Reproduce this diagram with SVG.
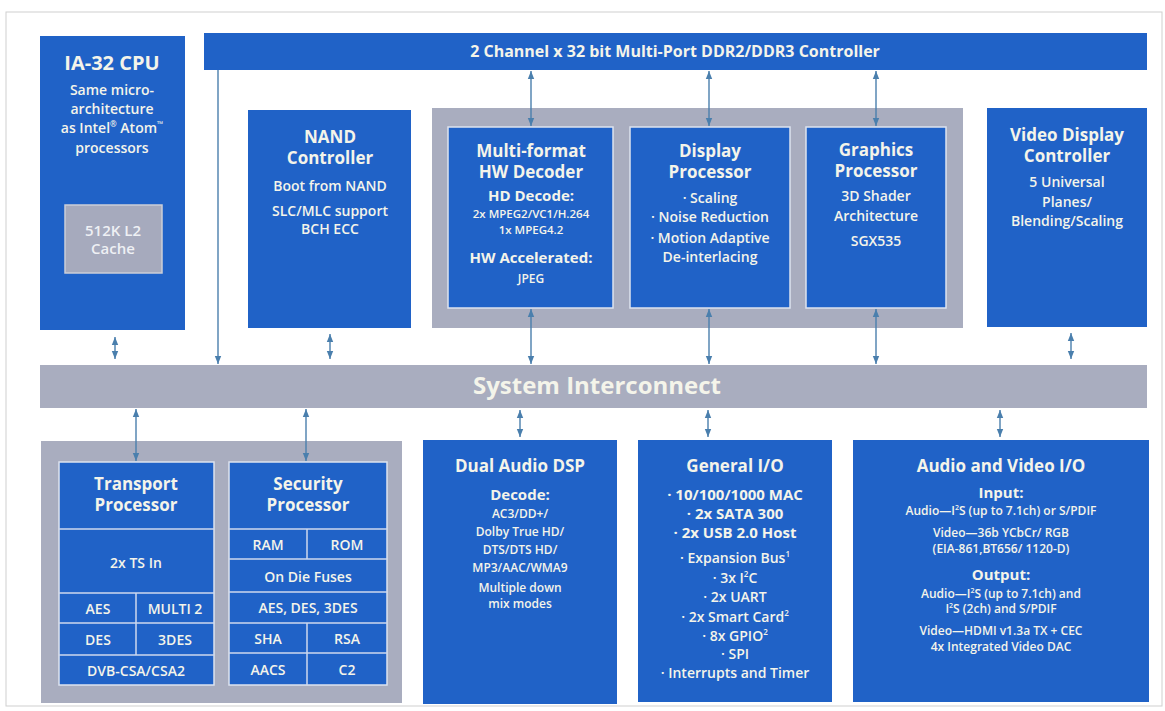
<svg xmlns="http://www.w3.org/2000/svg" width="1165" height="711" viewBox="0 0 1165 711">
<defs>
<marker id="ah" viewBox="0 0 10 10" refX="10" refY="5" markerWidth="8" markerHeight="8" markerUnits="userSpaceOnUse" orient="auto-start-reverse"><path d="M0,1 L10,5 L0,9 z" fill="#4a7fad"/></marker>
<style>
.blue{fill:#2062c7}
.gray{fill:#a9adbf}
.inner{fill:#2062c7;stroke:#dde3ef;stroke-width:1.5}
.grid{stroke:#cdd8ee;stroke-width:1.5;fill:none}
text{font-family:"Open Sans","DejaVu Sans",sans-serif;fill:#f4f4ea;text-anchor:middle}
.t{font-size:17px;font-weight:700}
.b{font-size:14px;font-weight:600}
.s{font-size:12px;font-weight:600}
.xs{font-size:11.5px;font-weight:600}
.sb{font-size:15px;font-weight:700}
.c{stroke:#4a7fad;stroke-width:1.4;fill:none}
</style>
</defs>
<rect x="0" y="0" width="1165" height="711" fill="#ffffff"/>
<rect x="6" y="12" width="1156" height="694" fill="none" stroke="#cfcfcf" stroke-width="1"/>

<g id="ddr">
<rect class="blue" x="204" y="33" width="943" height="37"/>
<text class="sb" x="675" y="57" style="font-size:16px">2 Channel x 32 bit Multi-Port DDR2/DDR3 Controller</text>
</g>

<g id="cpu">
<rect class="blue" x="40" y="36" width="145" height="294"/>
<text class="t" x="112" y="70" style="font-size:20px">IA-32 CPU</text>
<text class="b" x="112" y="95">Same micro-</text>
<text class="b" x="112" y="114">architecture</text>
<text class="b" x="112" y="133">as Intel<tspan font-size="8" dy="-6">®</tspan><tspan dy="6"> Atom</tspan><tspan font-size="8" dy="-6">™</tspan></text>
<text class="b" x="112" y="153">processors</text>
<rect x="65" y="205" width="97" height="68" fill="#a6aabd" stroke="#cbced8" stroke-width="1.5"/>
<text class="b" x="113" y="236" style="font-size:15px;fill:#eef0f4">512K L2</text>
<text class="b" x="113" y="254" style="font-size:15px;fill:#eef0f4">Cache</text>
</g>

<g id="nand">
<rect class="blue" x="248" y="110" width="163" height="218"/>
<text class="t" x="330" y="143">NAND</text>
<text class="t" x="330" y="164">Controller</text>
<text class="b" x="330" y="191">Boot from NAND</text>
<text class="b" x="330" y="216">SLC/MLC support</text>
<text class="b" x="330" y="234">BCH ECC</text>
</g>

<g id="media-group">
<rect class="gray" x="432" y="108" width="531" height="220"/>
</g>

<g id="decoder">
<rect class="inner" x="448" y="127" width="165" height="181"/>
<text class="t" x="531" y="157">Multi-format</text>
<text class="t" x="531" y="178">HW Decoder</text>
<text class="sb" x="531" y="201">HD Decode:</text>
<text class="xs" x="531" y="218">2x MPEG2/VC1/H.264</text>
<text class="xs" x="531" y="234">1x MPEG4.2</text>
<text class="sb" x="531" y="263">HW Accelerated:</text>
<text class="s" x="531" y="283">JPEG</text>
</g>

<g id="display">
<rect class="inner" x="630" y="127" width="160" height="181"/>
<text class="t" x="710" y="157">Display</text>
<text class="t" x="710" y="178">Processor</text>
<text class="b" x="710" y="203">· Scaling</text>
<text class="b" x="710" y="222">· Noise Reduction</text>
<text class="b" x="710" y="243">· Motion Adaptive</text>
<text class="b" x="710" y="262">De-interlacing</text>
</g>

<g id="graphics">
<rect class="inner" x="806" y="127" width="140" height="181"/>
<text class="t" x="876" y="156">Graphics</text>
<text class="t" x="876" y="177">Processor</text>
<text class="b" x="876" y="201">3D Shader</text>
<text class="b" x="876" y="221">Architecture</text>
<text class="b" x="876" y="246">SGX535</text>
</g>

<g id="vdc">
<rect class="blue" x="987" y="108" width="160" height="219"/>
<text class="t" x="1067" y="141">Video Display</text>
<text class="t" x="1067" y="162">Controller</text>
<text class="b" x="1067" y="187">5 Universal</text>
<text class="b" x="1067" y="207">Planes/</text>
<text class="b" x="1067" y="226">Blending/Scaling</text>
</g>

<g id="interconnect">
<rect class="gray" x="40" y="365" width="1107" height="43"/>
<text x="597" y="394" style="font-size:24px;font-weight:700">System Interconnect</text>
</g>

<g id="secure-group">
<rect class="gray" x="41" y="441" width="361" height="262"/>
</g>

<g id="transport">
<rect class="inner" x="59" y="462" width="155" height="223"/>
<path class="grid" d="M59,529H214M59,593H214M59,623H214M59,655H214M136,593V655"/>
<text class="t" x="136" y="490">Transport</text>
<text class="t" x="136" y="511">Processor</text>
<text class="b" x="136" y="568">2x TS In</text>
<text class="b" x="98" y="614">AES</text>
<text class="b" x="175" y="614">MULTI 2</text>
<text class="b" x="98" y="645">DES</text>
<text class="b" x="175" y="645">3DES</text>
<text class="b" x="136" y="676">DVB-CSA/CSA2</text>
</g>

<g id="security">
<rect class="inner" x="229" y="462" width="158" height="223"/>
<path class="grid" d="M229,529H387M229,559H387M229,592H387M229,623H387M229,653H387M307,529V559M307,623V685"/>
<text class="t" x="308" y="490">Security</text>
<text class="t" x="308" y="511">Processor</text>
<text class="b" x="268" y="550">RAM</text>
<text class="b" x="347" y="550">ROM</text>
<text class="b" x="308" y="582">On Die Fuses</text>
<text class="b" x="308" y="613">AES, DES, 3DES</text>
<text class="b" x="268" y="644">SHA</text>
<text class="b" x="347" y="644">RSA</text>
<text class="b" x="268" y="675">AACS</text>
<text class="b" x="347" y="675">C2</text>
</g>

<g id="dsp">
<rect class="blue" x="423" y="440" width="194" height="264"/>
<text class="t" x="520" y="472">Dual Audio DSP</text>
<text class="sb" x="520" y="500">Decode:</text>
<text class="s" x="520" y="518">AC3/DD+/</text>
<text class="s" x="520" y="536">Dolby True HD/</text>
<text class="s" x="520" y="554">DTS/DTS HD/</text>
<text class="s" x="520" y="572">MP3/AAC/WMA9</text>
<text class="s" x="520" y="592">Multiple down</text>
<text class="s" x="520" y="608">mix modes</text>
</g>

<g id="gio">
<rect class="blue" x="638" y="440" width="194" height="262"/>
<text class="t" x="735" y="472">General I/O</text>
<text class="sb" x="735" y="500">· 10/100/1000 MAC</text>
<text class="sb" x="735" y="519">· 2x SATA 300</text>
<text class="sb" x="735" y="538">· 2x USB 2.0 Host</text>
<text class="b" x="735" y="563">· Expansion Bus<tspan font-size="8" dy="-6">1</tspan></text>
<text class="b" x="735" y="583">· 3x I<tspan font-size="8" dy="-6">2</tspan><tspan dy="6">C</tspan></text>
<text class="b" x="735" y="602">· 2x UART</text>
<text class="b" x="735" y="622">· 2x Smart Card<tspan font-size="8" dy="-6">2</tspan></text>
<text class="b" x="735" y="641">· 8x GPIO<tspan font-size="8" dy="-6">2</tspan></text>
<text class="b" x="735" y="659">· SPI</text>
<text class="b" x="735" y="678">· Interrupts and Timer</text>
</g>

<g id="avio">
<rect class="blue" x="853" y="440" width="296" height="262"/>
<text class="t" x="1001" y="472">Audio and Video I/O</text>
<text class="sb" x="1001" y="498">Input:</text>
<text class="s" x="1001" y="515">Audio—I<tspan font-size="7" dy="-5">2</tspan><tspan dy="5">S (up to 7.1ch) or S/PDIF</tspan></text>
<text class="s" x="1001" y="537">Video—36b YCbCr/ RGB</text>
<text class="s" x="1001" y="553">(EIA-861,BT656/ 1120-D)</text>
<text class="sb" x="1001" y="580">Output:</text>
<text class="s" x="1001" y="598">Audio—I<tspan font-size="7" dy="-5">2</tspan><tspan dy="5">S (up to 7.1ch) and</tspan></text>
<text class="s" x="1001" y="613">I<tspan font-size="7" dy="-5">2</tspan><tspan dy="5">S (2ch) and S/PDIF</tspan></text>
<text class="s" x="1001" y="635">Video—HDMI v1.3a TX + CEC</text>
<text class="s" x="1001" y="651">4x Integrated Video DAC</text>
</g>

<g id="connectors">
<line class="c" x1="218" y1="70" x2="218" y2="364" marker-end="url(#ah)"/>
<line class="c" x1="531" y1="71" x2="531" y2="126" marker-start="url(#ah)" marker-end="url(#ah)"/>
<line class="c" x1="709" y1="71" x2="709" y2="126" marker-start="url(#ah)" marker-end="url(#ah)"/>
<line class="c" x1="876" y1="71" x2="876" y2="126" marker-start="url(#ah)" marker-end="url(#ah)"/>
<line class="c" x1="531" y1="309" x2="531" y2="364" marker-start="url(#ah)" marker-end="url(#ah)"/>
<line class="c" x1="709" y1="309" x2="709" y2="364" marker-start="url(#ah)" marker-end="url(#ah)"/>
<line class="c" x1="876" y1="309" x2="876" y2="364" marker-start="url(#ah)" marker-end="url(#ah)"/>
<line class="c" x1="115" y1="337" x2="115" y2="359" marker-start="url(#ah)" marker-end="url(#ah)"/>
<line class="c" x1="330" y1="334" x2="330" y2="359" marker-start="url(#ah)" marker-end="url(#ah)"/>
<line class="c" x1="1071" y1="333" x2="1071" y2="359" marker-start="url(#ah)" marker-end="url(#ah)"/>
<line class="c" x1="136" y1="409" x2="136" y2="461" marker-start="url(#ah)" marker-end="url(#ah)"/>
<line class="c" x1="306" y1="409" x2="306" y2="461" marker-start="url(#ah)" marker-end="url(#ah)"/>
<line class="c" x1="520" y1="410" x2="520" y2="437" marker-start="url(#ah)" marker-end="url(#ah)"/>
<line class="c" x1="708" y1="410" x2="708" y2="437" marker-start="url(#ah)" marker-end="url(#ah)"/>
<line class="c" x1="1000" y1="410" x2="1000" y2="437" marker-start="url(#ah)" marker-end="url(#ah)"/>
</g>
</svg>
